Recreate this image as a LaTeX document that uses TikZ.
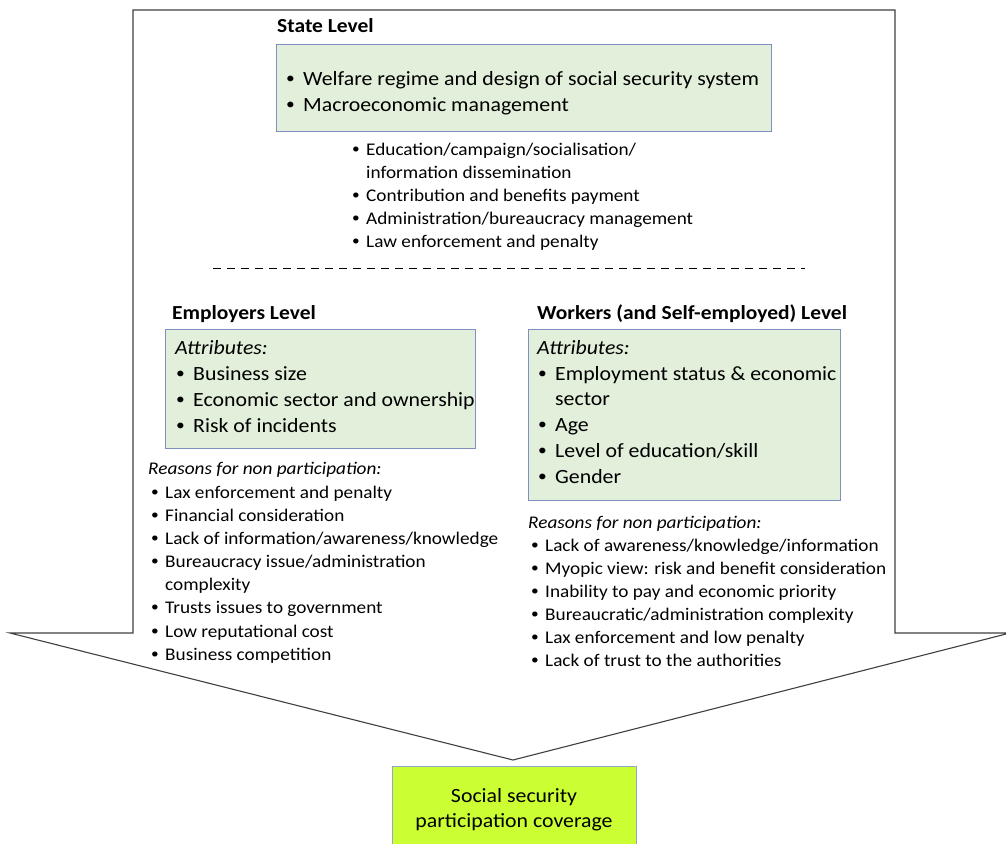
\documentclass[tikz,border=0pt]{standalone}
\usepackage{fontspec}
\setmainfont{Carlito}[FakeStretch=1.08]
\begin{document}
\begin{tikzpicture}[x=1pt,y=-1pt,
  greenbox/.style={draw=boxblue,fill=boxgreen,line width=1.2pt},
  outline/.style={draw=arrowgray,line width=1.1pt,fill=white},
  big/.style={font=\fontsize{20.2}{24}\selectfont},
  small/.style={font=\fontsize{17.8}{21}\selectfont},
  title/.style={font=\bfseries\fontsize{19.9}{23}\selectfont},
  txt/.style={anchor=base west,inner sep=0pt}]
\definecolor{boxgreen}{HTML}{E2EFDA}
\definecolor{boxblue}{HTML}{7F8FBF}
\definecolor{arrowgray}{HTML}{404040}
\definecolor{lime}{HTML}{CCFF33}
\definecolor{limeborder}{HTML}{8EA9C1}
\useasboundingbox (0,0) rectangle (1006,843);
% big arrow
\draw[outline] (133,10) -- (895,10) -- (895,633) -- (1010,633) -- (513,760) -- (10,633) -- (133,633) -- cycle;
% bottom box
\node[draw=limeborder,fill=lime,line width=1pt,minimum width=244pt,minimum height=90pt,anchor=north west,inner sep=0pt] (out) at (392,766) {};
\node[anchor=base,inner sep=0pt,big] (o1) at (514,802) {Social security};
\node[anchor=base,inner sep=0pt,big] (o2) at (514,827) {participation coverage};
% state level
\node[txt,title] (st) at (277,33) {State Level};
\node[greenbox,anchor=north west,minimum width=495pt,minimum height=87pt,inner sep=0pt] (sbox) at (276,44) {};
\newcommand\bitem[6]{\node[txt,#5] (#1) at (#2,#3) {\makebox[#6][l]{\hspace{1pt}\raisebox{0.12ex}{\scalebox{0.8}{•}}}#4};}
\bitem{s1}{285}{85}{Welfare regime and design of social security system}{big}{18pt}
\bitem{s2}{285}{111}{Macroeconomic management}{big}{18pt}
\bitem{t1}{351}{155}{Education/campaign/socialisation/}{small}{15pt}
\node[txt,small] (t1b) at (366,178) {information dissemination};
\bitem{t2}{351}{201}{Contribution and benefits payment}{small}{15pt}
\bitem{t3}{351}{224}{Administration/bureaucracy management}{small}{15pt}
\bitem{t4}{351}{247}{Law enforcement and penalty}{small}{15pt}
% dashed separator
\coordinate (dl) at (213,268);
\coordinate (dr) at (805,268);
\draw[dashed,line width=1pt,dash pattern=on 8pt off 6pt] (dl) -- (dr);
% employers
\node[txt,title] (et) at (172,319) {Employers Level};
\node[greenbox,anchor=north west,minimum width=310pt,minimum height=119pt,inner sep=0pt] (ebox) at (165,329) {};
\node[txt,big] (ea) at (175,354) {\itshape Attributes:};
\bitem{e1}{175}{380}{Business size}{big}{18pt}
\bitem{e2}{175}{406}{Economic sector and ownership}{big}{18pt}
\bitem{e3}{175}{432}{Risk of incidents}{big}{18pt}
\node[txt,small] (er) at (148,474) {\itshape Reasons for non participation:};
\bitem{r1}{150}{498}{Lax enforcement and penalty}{small}{15pt}
\bitem{r2}{150}{521}{Financial consideration}{small}{15pt}
\bitem{r3}{150}{544}{Lack of information/awareness/knowledge}{small}{15pt}
\bitem{r4}{150}{567}{Bureaucracy issue/administration}{small}{15pt}
\node[txt,small] (r4b) at (165,590) {complexity};
\bitem{r5}{150}{613}{Trusts issues to government}{small}{15pt}
\bitem{r6}{150}{637}{Low reputational cost}{small}{15pt}
\bitem{r7}{150}{660}{Business competition}{small}{15pt}
% workers
\node[txt,title] (wt) at (537,319) {Workers (and Self-employed) Level};
\node[greenbox,anchor=north west,minimum width=312pt,minimum height=171pt,inner sep=0pt] (wbox) at (528,329) {};
\node[txt,big] (wa) at (537,354) {\itshape Attributes:};
\bitem{w1}{537}{380}{Employment status \& economic}{big}{18pt}
\node[txt,big] (w1b) at (555,405) {sector};
\bitem{w2}{537}{431}{Age}{big}{18pt}
\bitem{w3}{537}{457}{Level of education/skill}{big}{18pt}
\bitem{w4}{537}{483}{Gender}{big}{18pt}
\node[txt,small] (wr) at (528,528) {\itshape Reasons for non participation:};
\bitem{q1}{530}{551}{Lack of awareness/knowledge/information}{small}{15pt}
\bitem{q2}{530}{574}{Myopic view: risk and benefit consideration}{small}{15pt}
\bitem{q3}{530}{597}{Inability to pay and economic priority}{small}{15pt}
\bitem{q4}{530}{620}{Bureaucratic/administration complexity}{small}{15pt}
\bitem{q5}{530}{643}{Lax enforcement and low penalty}{small}{15pt}
\bitem{q6}{530}{666}{Lack of trust to the authorities}{small}{15pt}
\end{tikzpicture}
\end{document}
